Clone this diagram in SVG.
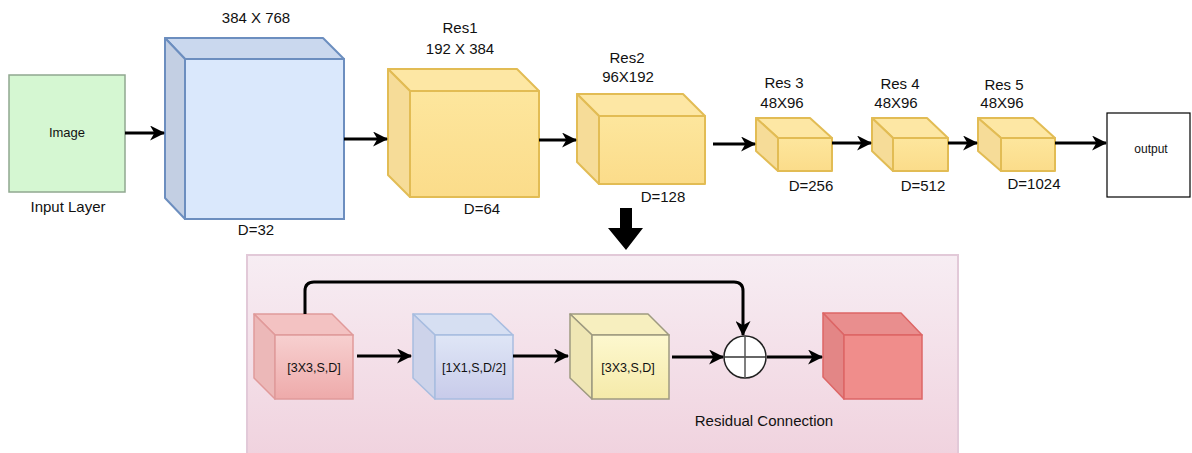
<svg xmlns="http://www.w3.org/2000/svg" width="1192" height="453" viewBox="0 0 1192 453">
<style>
text{font-family:"Liberation Sans",Arial,sans-serif;fill:#111;text-anchor:middle}
.lbl{font-size:15px}
.sm{font-size:12.5px}
.ln{fill:none;stroke:#000;stroke-width:3}
.yc .f{fill:url(#gY)}
.yc .t{fill:#fde7a4}
.yc .s{fill:#f6dc98}
.yc polygon,.yc rect{stroke:#e2bc54;stroke-width:2;stroke-linejoin:round}
</style>
<defs>
<marker id="ah" viewBox="0 0 14 14" refX="13" refY="7" markerWidth="15" markerHeight="15" markerUnits="userSpaceOnUse" orient="auto">
<path d="M0,0 L14,7 L0,14 L4,7 Z" fill="#000"/>
</marker>
<linearGradient id="gY" x1="0" y1="0" x2="0" y2="1"><stop offset="0" stop-color="#fde69d"/><stop offset="1" stop-color="#fbdc8a"/></linearGradient>
<linearGradient id="gP" x1="0" y1="0" x2="0" y2="1"><stop offset="0" stop-color="#f7edf3"/><stop offset="1" stop-color="#f0d2de"/></linearGradient>
<linearGradient id="gR" x1="0" y1="0" x2="0" y2="1"><stop offset="0" stop-color="#f7d0d0"/><stop offset="1" stop-color="#eeaaaa"/></linearGradient>
<linearGradient id="gB" x1="0" y1="0" x2="0" y2="1"><stop offset="0" stop-color="#dfe6f6"/><stop offset="1" stop-color="#c8cbea"/></linearGradient>
<linearGradient id="gL" x1="0" y1="0" x2="0" y2="1"><stop offset="0" stop-color="#fdf8cf"/><stop offset="1" stop-color="#f5eaa9"/></linearGradient>
</defs>

<rect x="0" y="0" width="1192" height="453" fill="#fff"/>

<g id="panel">
<rect x="247" y="255" width="711" height="205" fill="url(#gP)" stroke="#e2c9d8" stroke-width="2"/>
</g>

<g id="input">
<rect x="9" y="75" width="116" height="117" fill="#d5f7d2" stroke="#90a890" stroke-width="1.5"/>
<text x="67" y="137" style="font-size:13px">Image</text>
<text x="68" y="212" class="lbl">Input Layer</text>
</g>

<g id="conv">
<polygon points="165,38 323,38 344,59 185,59" fill="#cad8ee" stroke="#6c8ebf" stroke-width="2" stroke-linejoin="round"/>
<polygon points="165,38 185,59 185,219 165,198" fill="#c3cfe3" stroke="#6c8ebf" stroke-width="2" stroke-linejoin="round"/>
<rect x="185" y="59" width="159" height="160" fill="#dae8fc" stroke="#6c8ebf" stroke-width="2"/>
<text x="256" y="23" class="lbl">384 X 768</text>
<text x="256" y="235" class="lbl">D=32</text>
</g>

<g id="res1" class="yc">
<polygon class="t" points="388,69 517,69 539,91 410,91"/>
<polygon class="s" points="388,69 410,91 410,197 388,175"/>
<rect class="f" x="410" y="91" width="129" height="106"/>
<text x="460" y="33" class="lbl">Res1</text>
<text x="460" y="54" class="lbl">192 X 384</text>
<text x="482" y="214" class="lbl">D=64</text>
</g>

<g id="res2" class="yc">
<polygon class="t" points="577,94 683,94 705,116 599,116"/>
<polygon class="s" points="577,94 599,116 599,184 577,162"/>
<rect class="f" x="599" y="116" width="106" height="68"/>
<text x="627" y="63" class="lbl">Res2</text>
<text x="628" y="82" class="lbl">96X192</text>
<text x="663" y="202" class="lbl">D=128</text>
</g>

<g id="res3" class="yc">
<polygon class="t" points="756,118 810,118 832,138 778,138"/>
<polygon class="s" points="756,118 778,138 778,171 756,151"/>
<rect class="f" x="778" y="138" width="54" height="33"/>
<text x="784" y="88" class="lbl">Res 3</text>
<text x="782" y="108" class="lbl">48X96</text>
<text x="811" y="191" class="lbl">D=256</text>
</g>

<g id="res4" class="yc">
<polygon class="t" points="872,118 927,118 948,138 893,138"/>
<polygon class="s" points="872,118 893,138 893,171 872,151"/>
<rect class="f" x="893" y="138" width="55" height="33"/>
<text x="900" y="89" class="lbl">Res 4</text>
<text x="896" y="108" class="lbl">48X96</text>
<text x="923" y="191" class="lbl">D=512</text>
</g>

<g id="res5" class="yc">
<polygon class="t" points="978,118 1033,118 1055,138 1001,138"/>
<polygon class="s" points="978,118 1001,138 1001,171 978,151"/>
<rect class="f" x="1001" y="138" width="54" height="33"/>
<text x="1004" y="90" class="lbl">Res 5</text>
<text x="1002" y="108" class="lbl">48X96</text>
<text x="1034" y="189" class="lbl">D=1024</text>
</g>

<g id="output">
<rect x="1107" y="113" width="83" height="84" fill="#fff" stroke="#000" stroke-width="1.2"/>
<text x="1151" y="153" style="font-size:12px">output</text>
</g>

<g id="b1">
<polygon points="254,314 332,314 353,335 275,335" fill="#f3c2c2" stroke="#e09a9a" stroke-width="1.5" stroke-linejoin="round"/>
<polygon points="254,314 275,335 275,399 254,378" fill="#ecb8b8" stroke="#e09a9a" stroke-width="1.5" stroke-linejoin="round"/>
<rect x="275" y="335" width="78" height="64" fill="url(#gR)" stroke="#e09a9a" stroke-width="1.5"/>
<text x="314" y="372" class="sm">[3X3,S,D]</text>
</g>

<g id="b2">
<polygon points="413,314 491,314 513,335 435,335" fill="#d6dff2" stroke="#a8bde0" stroke-width="1.5" stroke-linejoin="round"/>
<polygon points="413,314 435,335 435,399 413,378" fill="#cdd3ea" stroke="#a8bde0" stroke-width="1.5" stroke-linejoin="round"/>
<rect x="435" y="335" width="78" height="64" fill="url(#gB)" stroke="#a8bde0" stroke-width="1.5"/>
<text x="474" y="372" class="sm">[1X1,S,D/2]</text>
</g>

<g id="b3">
<polygon points="570,314 648,314 669,335 592,335" fill="#f7efbf" stroke="#9e9a80" stroke-width="1.5" stroke-linejoin="round"/>
<polygon points="570,314 592,335 592,399 570,378" fill="#efe6b4" stroke="#9e9a80" stroke-width="1.5" stroke-linejoin="round"/>
<rect x="592" y="335" width="77" height="64" fill="url(#gL)" stroke="#9e9a80" stroke-width="1.5"/>
<text x="628" y="372" class="sm">[3X3,S,D]</text>
</g>

<g id="sum">
<circle cx="745" cy="357" r="21" fill="#fff" stroke="#222" stroke-width="1.5"/>
<line x1="724" y1="357" x2="766" y2="357" stroke="#333" stroke-width="1.5"/>
<line x1="745" y1="336" x2="745" y2="378" stroke="#555" stroke-width="1.5"/>
<text x="764" y="426" class="lbl">Residual Connection</text>
</g>

<g id="b4">
<polygon points="823,313 901,313 922,335 844,335" fill="#e98e8e" stroke="#dd6666" stroke-width="1.5" stroke-linejoin="round"/>
<polygon points="823,313 844,335 844,399 823,377" fill="#e38686" stroke="#dd6666" stroke-width="1.5" stroke-linejoin="round"/>
<rect x="844" y="335" width="78" height="64" fill="#f08d8b" stroke="#dd6666" stroke-width="1.5"/>
</g>

<g id="connectors">
<line class="ln" x1="125" y1="133" x2="164" y2="133" marker-end="url(#ah)"/>
<line class="ln" x1="344" y1="139" x2="387" y2="139" marker-end="url(#ah)"/>
<line class="ln" x1="539" y1="140" x2="576" y2="140" marker-end="url(#ah)"/>
<line class="ln" x1="713" y1="144" x2="755" y2="144" marker-end="url(#ah)"/>
<line class="ln" x1="832" y1="143" x2="871" y2="143" marker-end="url(#ah)"/>
<line class="ln" x1="948" y1="143" x2="977" y2="143" marker-end="url(#ah)"/>
<line class="ln" x1="1055" y1="143" x2="1106" y2="143" marker-end="url(#ah)"/>
<polygon points="620,208 632,208 632,228 643,228 626,250 608,228 620,228" fill="#000"/>
<line class="ln" x1="357" y1="356" x2="411" y2="356" marker-end="url(#ah)"/>
<line class="ln" x1="513" y1="356" x2="568" y2="356" marker-end="url(#ah)"/>
<line class="ln" x1="672" y1="357" x2="723" y2="357" marker-end="url(#ah)"/>
<line class="ln" x1="767" y1="357" x2="822" y2="357" marker-end="url(#ah)"/>
<path class="ln" d="M305,314 L305,291 Q305,282 314,282 L734,282 Q743,282 743,291 L743,335" marker-end="url(#ah)"/>
</g>
</svg>
